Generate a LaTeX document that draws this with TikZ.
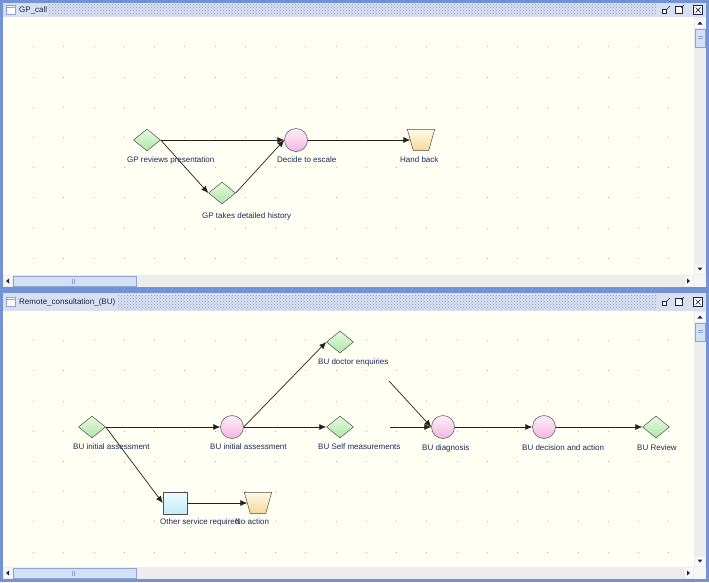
\documentclass[tikz,border=0pt]{standalone}
\usepackage{fontspec}
\setmainfont{Liberation Sans}
\usetikzlibrary{shapes.geometric,arrows.meta,patterns}
\definecolor{frameblue}{HTML}{7492D6}
\definecolor{titlebg}{HTML}{D8E0F0}
\definecolor{hatchc}{HTML}{8E9FC8}
\definecolor{canvasbg}{HTML}{FFFFF4}
\definecolor{gridc}{HTML}{B4B4AC}
\definecolor{lblc}{HTML}{1C2A5E}
\definecolor{edgec}{HTML}{222222}
\definecolor{outl}{HTML}{505050}
\definecolor{scrollbg}{HTML}{EDEDED}
\definecolor{thumbc}{HTML}{D4E0F6}
\definecolor{thumbb}{HTML}{8CA4D6}
\definecolor{greenA}{HTML}{E6FAE2}
\definecolor{greenB}{HTML}{AEE6A6}
\definecolor{pinkA}{HTML}{FFEEF8}
\definecolor{pinkB}{HTML}{F3B6E2}
\definecolor{tanA}{HTML}{FFF9E6}
\definecolor{tanB}{HTML}{F6D79C}
\definecolor{cyanA}{HTML}{EEFBFF}
\definecolor{cyanB}{HTML}{C2ECFA}
\definecolor{titletxt}{HTML}{1E2440}
\newcommand\drawtrapz[1]{%
  \draw[draw=outl,line width=0.5pt,top color=tanA,bottom color=tanB]
    (#1.north west) -- (#1.north east) -- ([xshift=-6pt]#1.south east)
    -- ([xshift=6pt]#1.south west) -- cycle;}
\begin{document}
\begin{tikzpicture}[x=1pt,y=-1pt,
  dia/.style={diamond,draw=outl,line width=0.5pt,minimum width=27pt,minimum height=22pt,inner sep=0pt,top color=greenA,bottom color=greenB},
  circ/.style={circle,draw=outl,line width=0.5pt,minimum size=23pt,inner sep=0pt,top color=pinkA,bottom color=pinkB},
  trapbox/.style={rectangle,minimum width=27pt,minimum height=21pt,inner sep=0pt},
  sq/.style={rectangle,draw=outl,line width=0.5pt,minimum width=24pt,minimum height=22pt,inner sep=0pt,top color=cyanA,bottom color=cyanB},
  lbl/.style={anchor=west,inner sep=0pt,text=lblc,font=\fontsize{8}{9.6}\selectfont},
  edge/.style={draw=edgec,line width=0.7pt,-{Latex[length=7pt,width=6pt]}},
  ttl/.style={anchor=west,inner sep=0pt,text=titletxt,font=\fontsize{8}{9.6}\selectfont}
]
\useasboundingbox (0,0) rectangle (709,582);
% frame background
\fill[frameblue] (0,0) rectangle (709,582);

% Window 1
\fill[titlebg] (3,3) rectangle (706,17);
\fill[pattern=crosshatch dots,pattern color=hatchc] (48,4.5) rectangle (656,15.5);
\fill[canvasbg] (3,17) rectangle (694,275);
% Window 2
\fill[titlebg] (3,293) rectangle (706,311);
\fill[pattern=crosshatch dots,pattern color=hatchc] (118,295) rectangle (656,309);
\fill[canvasbg] (3,311) rectangle (694,567);

% grid dots
\foreach \i in {0,...,21}{
  \foreach \k in {0,...,7}{
    \fill[gridc] ({33.5+30.25*\i-0.5},{258.2-30.2*\k-0.5}) rectangle ++(1,1);
  }
  \foreach \k in {0,...,7}{
    \fill[gridc] ({33.5+30.25*\i-0.5},{552-30.2*\k-0.5}) rectangle ++(1,1);
  }
}

% title icons and texts
\foreach \ty/\tt in {3/GP\_call,295/Remote\_consultation\_(BU)}{
  \draw[fill=white,draw=thumbb,line width=0.6pt] (6,\ty+2.5) rectangle (15,\ty+11.5);
  \draw[draw=thumbb,line width=0.6pt] (6,\ty+4.5) -- (15,\ty+4.5);
  \node[ttl] at (19,\ty+7) {\tt};
  \draw[draw=titletxt,line width=0.6pt,fill=white] (662.5,\ty+6.5) rectangle (666.5,\ty+10.5);
  \draw[draw=titletxt,line width=0.5pt] (667,\ty+6) -- (670,\ty+3);
  \draw[draw=titletxt,line width=0.6pt,fill=white] (675.5,\ty+3.5) rectangle (682.5,\ty+10.5);
  \draw[draw=titletxt,line width=0.5pt] (681,\ty+5) -- (684,\ty+2);
  \draw[draw=titletxt,line width=0.6pt,fill=white] (693.5,\ty+2.5) rectangle (702.5,\ty+11.5);
  \draw[draw=titletxt,line width=0.7pt] (695.5,\ty+4.5) -- (700.5,\ty+9.5) (700.5,\ty+4.5) -- (695.5,\ty+9.5);
}

% scrollbars
\foreach \top/\bot in {17/275,311/567}{
  \fill[scrollbg] (694,\top) rectangle (706,\bot);
  \draw[draw=white!85!gray,fill=white!95!gray] (694.5,\top+0.5) rectangle (705.5,\top+11);
  \fill[titletxt] (697.5,\top+7.5) -- (702.5,\top+7.5) -- (700,\top+4.5) -- cycle;
  \draw[draw=thumbb,fill=thumbc,line width=0.5pt] (695,\top+12) rectangle (705,\top+30);
  \draw[draw=thumbb,line width=0.4pt] (697.5,\top+19.5) -- (702.5,\top+19.5) (697.5,\top+21.5) -- (702.5,\top+21.5);
  \draw[draw=white!85!gray,fill=white!95!gray] (694.5,\bot-11) rectangle (705.5,\bot-0.5);
  \fill[titletxt] (697.5,\bot-7.5) -- (702.5,\bot-7.5) -- (700,\bot-4.5) -- cycle;
  \fill[scrollbg] (3,\bot) rectangle (694,\bot+12);
  \draw[draw=white!85!gray,fill=white!95!gray] (3.5,\bot+0.5) rectangle (12,\bot+11.5);
  \fill[titletxt] (9,\bot+3.5) -- (9,\bot+8.5) -- (6,\bot+6) -- cycle;
  \draw[draw=thumbb,fill=thumbc,line width=0.5pt] (13,\bot+1) rectangle (136,\bot+11);
  \draw[draw=thumbb,line width=0.4pt] (72,\bot+3.5) -- (72,\bot+8.5) (74,\bot+3.5) -- (74,\bot+8.5);
  \draw[draw=white!85!gray,fill=white!95!gray] (684,\bot+0.5) rectangle (693.5,\bot+11.5);
  \fill[titletxt] (687,\bot+3.5) -- (687,\bot+8.5) -- (690,\bot+6) -- cycle;
  \fill[white!93!gray] (694,\bot) rectangle (706,\bot+12);
}

% ---------------- GP_call ----------------
\node[dia]  (grp) at (147,140) {};
\node[circ] (dec) at (296,140) {};
\node[trapbox] (hb)  at (421,140) {};
\drawtrapz{hb}
\node[dia]  (gtd) at (222,193) {};

\node[lbl] (lgrp) at (127,160) {GP reviews presentation};
\node[lbl] (ldec) at (277,160) {Decide to escale};
\node[lbl] (lhb)  at (400,160) {Hand back};
\node[lbl] (lgtd) at (202,216) {GP takes detailed history};

\draw[edge] (grp.east) -- (dec.west);
\draw[edge] (grp.east) -- (gtd.west);
\draw[edge] (gtd.east) -- (dec.west);
\draw[edge] (dec.east) -- ([xshift=3pt]hb.west);

% ---------------- Remote_consultation_(BU) ----------------
\node[dia]  (bia) at (92,427) {};
\node[circ] (bic) at (232,427) {};
\node[dia]  (bsm) at (340,427) {};
\node[dia]  (bde) at (340,342) {};
\node[circ] (bdg) at (443,427) {};
\node[circ] (bda) at (544,427) {};
\node[dia]  (brv) at (656,427) {};
\node[sq]   (osr) at (175,503) {};
\node[trapbox] (noa) at (258,503) {};
\drawtrapz{noa}

\node[lbl] (lbia) at (73,447) {BU initial assessment};
\node[lbl] (lbic) at (210,447) {BU initial assessment};
\node[lbl] (lbsm) at (318,447) {BU Self measurements};
\node[lbl] (lbde) at (318,362) {BU doctor enquiries};
\node[lbl] (lbdg) at (422,448) {BU diagnosis};
\node[lbl] (lbda) at (522,448) {BU decision and action};
\node[lbl] (lbrv) at (637,448) {BU Review};
\node[lbl] (losr) at (160,522) {Other service required};
\node[lbl] (lnoa) at (235,522) {No action};

\coordinate (fd) at (389,381);
\coordinate (fs) at (390,427);

\draw[edge] (bia.east) -- (bic.west);
\draw[edge] (bic.east) -- (bsm.west);
\draw[edge] (bic.east) -- (bde.west);
\draw[edge] (bia.east) -- (osr.west);
\draw[edge] (osr.east) -- ([xshift=3pt]noa.west);
\draw[edge] (fd) -- (bdg.west);
\draw[edge] (fs) -- (bdg.west);
\draw[edge] (bdg.east) -- (bda.west);
\draw[edge] (bda.east) -- (brv.west);
\end{tikzpicture}
\end{document}
